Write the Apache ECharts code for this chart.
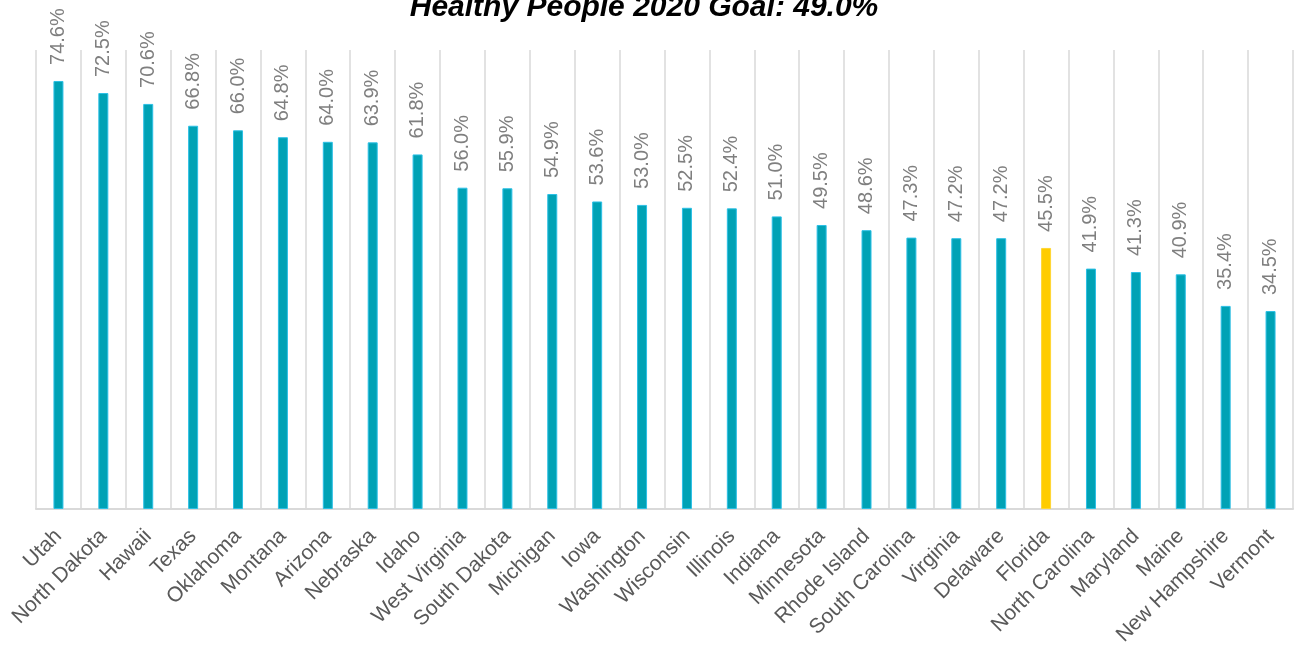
<!DOCTYPE html>
<html>
<head>
<meta charset="utf-8">
<script src="https://cdn.jsdelivr.net/npm/echarts@6/dist/echarts.min.js"></script>
<style>
	html, body { margin: 0; padding: 0; background: #fff; }
	#chart { width: 1294px; height: 660px; }
</style>
</head>
<body>
<div id="chart"></div>
<script>
	// 各州数据
	const states = ["Utah", "North Dakota", "Hawaii", "Texas", "Oklahoma", "Montana", "Arizona", "Nebraska", "Idaho",
		"West Virginia", "South Dakota", "Michigan", "Iowa", "Washington", "Wisconsin", "Illinois", "Indiana",
		"Minnesota", "Rhode Island", "South Carolina", "Virginia", "Delaware", "Florida", "North Carolina",
		"Maryland", "Maine", "New Hampshire", "Vermont"];
	const rates = [74.6, 72.5, 70.6, 66.8, 66.0, 64.8, 64.0, 63.9, 61.8, 56.0, 55.9, 54.9, 53.6, 53.0, 52.5, 52.4,
		51.0, 49.5, 48.6, 47.3, 47.2, 47.2, 45.5, 41.9, 41.3, 40.9, 35.4, 34.5];
	const highlight = "Florida";
	const titleText = "Healthy People 2020 Goal: 49.0%";

	const font = "'Liberation Sans', Arial, sans-serif";
	const teal = "#00a2b5";
	const yellow = "#ffcc00";

	let myChart = echarts.init(document.getElementById("chart"));
	let option = {
		animation: false,
		title: {
			text: titleText,
			left: 639,
			textAlign: "center",
			top: -12,
			textStyle: {
				fontFamily: font,
				fontSize: 30,
				fontWeight: "bold",
				fontStyle: "italic",
				color: "#000000",
			},
		},
		grid: {
			left: 36,
			right: 1,
			top: 50,
			bottom: 151,
		},
		xAxis: {
			type: "category",
			data: states,
			axisLine: {
				lineStyle: {
					color: "#d9d9d9",
					width: 2,
				},
			},
			axisTick: { show: false },
			splitLine: {
				show: true,
				lineStyle: {
					color: "#d9d9d9",
					width: 1.5,
				},
			},
			axisLabel: {
				interval: 0,
				rotate: 45,
				margin: 24,
				color: "#595959",
				fontFamily: font,
				fontSize: 21,
			},
		},
		yAxis: {
			type: "value",
			min: 0,
			max: 80,
			show: false,
			splitLine: { show: false },
		},
		series: [{
			type: "bar",
			barWidth: 10,
			data: rates.map((v, i) => ({
				value: v,
				itemStyle: {
					color: states[i] === highlight ? yellow : teal,
					borderColor: states[i] === highlight ? "#ffd633" : "#2cc0e6",
					borderWidth: 1,
				},
			})),
			label: {
				show: true,
				position: "top",
				rotate: 90,
				align: "left",
				verticalAlign: "middle",
				distance: 16,
				color: "#7f7f7f",
				fontFamily: font,
				fontSize: 20,
				formatter: (p) => p.value.toFixed(1) + "%",
			},
		}],
	};
	myChart.setOption(option);
</script>
</body>
</html>
